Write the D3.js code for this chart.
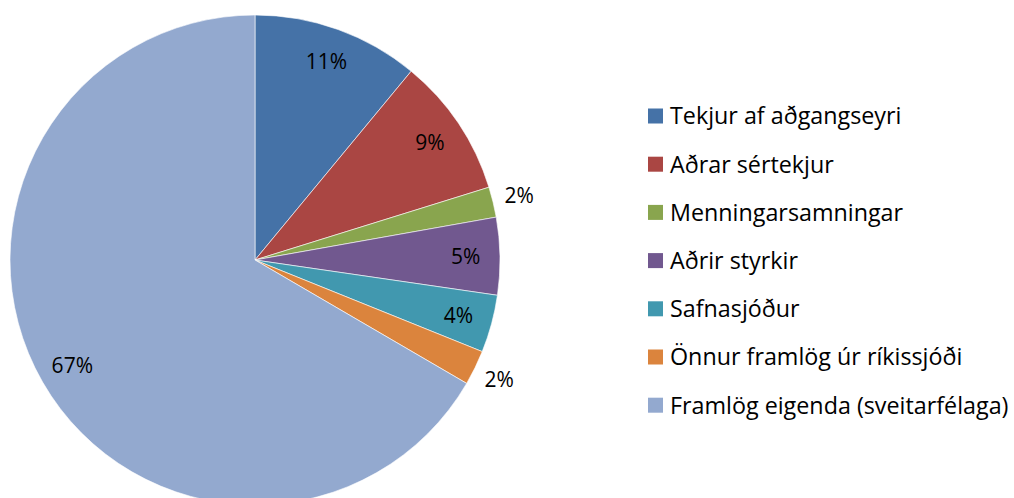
<!DOCTYPE html>
<html>
<head>
<meta charset="utf-8">
<script src="https://cdn.jsdelivr.net/npm/d3@7"></script>
<style>
  body { margin: 0; background: #fff; }
  svg text { font-family: "Open Sans", Lato, sans-serif; fill: #000; }
</style>
</head>
<body>
<svg id="chart"></svg>
<script>
var width = 1014;
var height = 498;

var categories = [
  "Tekjur af aðgangseyri",
  "Aðrar sértekjur",
  "Menningarsamningar",
  "Aðrir styrkir",
  "Safnasjóður",
  "Önnur framlög úr ríkissjóði",
  "Framlög eigenda (sveitarfélaga)"
];
var values = [11.0, 9.2, 2.0, 5.1, 3.8, 2.3, 66.6];
var labels = ["11%", "9%", "2%", "5%", "4%", "2%", "67%"];
var colors = ["#4572a7", "#aa4643", "#89a54e", "#71588f", "#4198af", "#db843d", "#93a9cf"];

var cx = 255, cy = 260, radius = 245;

var data = categories.map(function(c, i){
  return { name: c, value: values[i], label: labels[i], color: colors[i] };
});

var svg = d3.select('#chart')
  .attr('width', width)
  .attr('height', height);

var pie = d3.pie()
  .sort(null)
  .value(function(d){ return d.value; });

var arcs = pie(data);

var arc = d3.arc().innerRadius(0).outerRadius(radius);

var g = svg.append('g')
  .attr('transform', `translate(${cx}, ${cy})`);

g.selectAll('path.slice')
  .data(arcs)
  .enter()
  .append('path')
    .attr('class', 'slice')
    .attr('d', arc)
    .attr('fill', function(d){ return d.data.color; })
    .attr('stroke', '#fff')
    .attr('stroke-width', 0.6);

// labels: inside for big slices, outside for the small ones
var insideArc = d3.arc().innerRadius(radius * 0.86).outerRadius(radius * 0.86);
var outsideArc = d3.arc().innerRadius(radius * 1.11).outerRadius(radius * 1.11);

g.selectAll('text.pct')
  .data(arcs)
  .enter()
  .append('text')
    .attr('class', 'pct')
    .attr('transform', function(d){
      var a = d.data.value < 3 ? outsideArc : insideArc;
      return `translate(${a.centroid(d)})`;
    })
    .attr('dy', '0.36em')
    .style('text-anchor', 'middle')
    .style('font-size', '21px')
    .text(function(d){ return d.data.label; });

// legend
var legend = svg.append('g')
  .attr('transform', 'translate(648, 116)');

var rows = legend.selectAll('g.row')
  .data(data)
  .enter()
  .append('g')
    .attr('class', 'row')
    .attr('transform', function(d, i){ return `translate(0, ${i * 48.2})`; });

rows.append('rect')
  .attr('x', 0)
  .attr('y', -7.5)
  .attr('width', 15)
  .attr('height', 15)
  .attr('fill', function(d){ return d.color; });

rows.append('text')
  .attr('x', 22)
  .attr('dy', '0.36em')
  .style('font-size', '23.3px')
  .text(function(d){ return d.name; });
</script>
</body>
</html>
